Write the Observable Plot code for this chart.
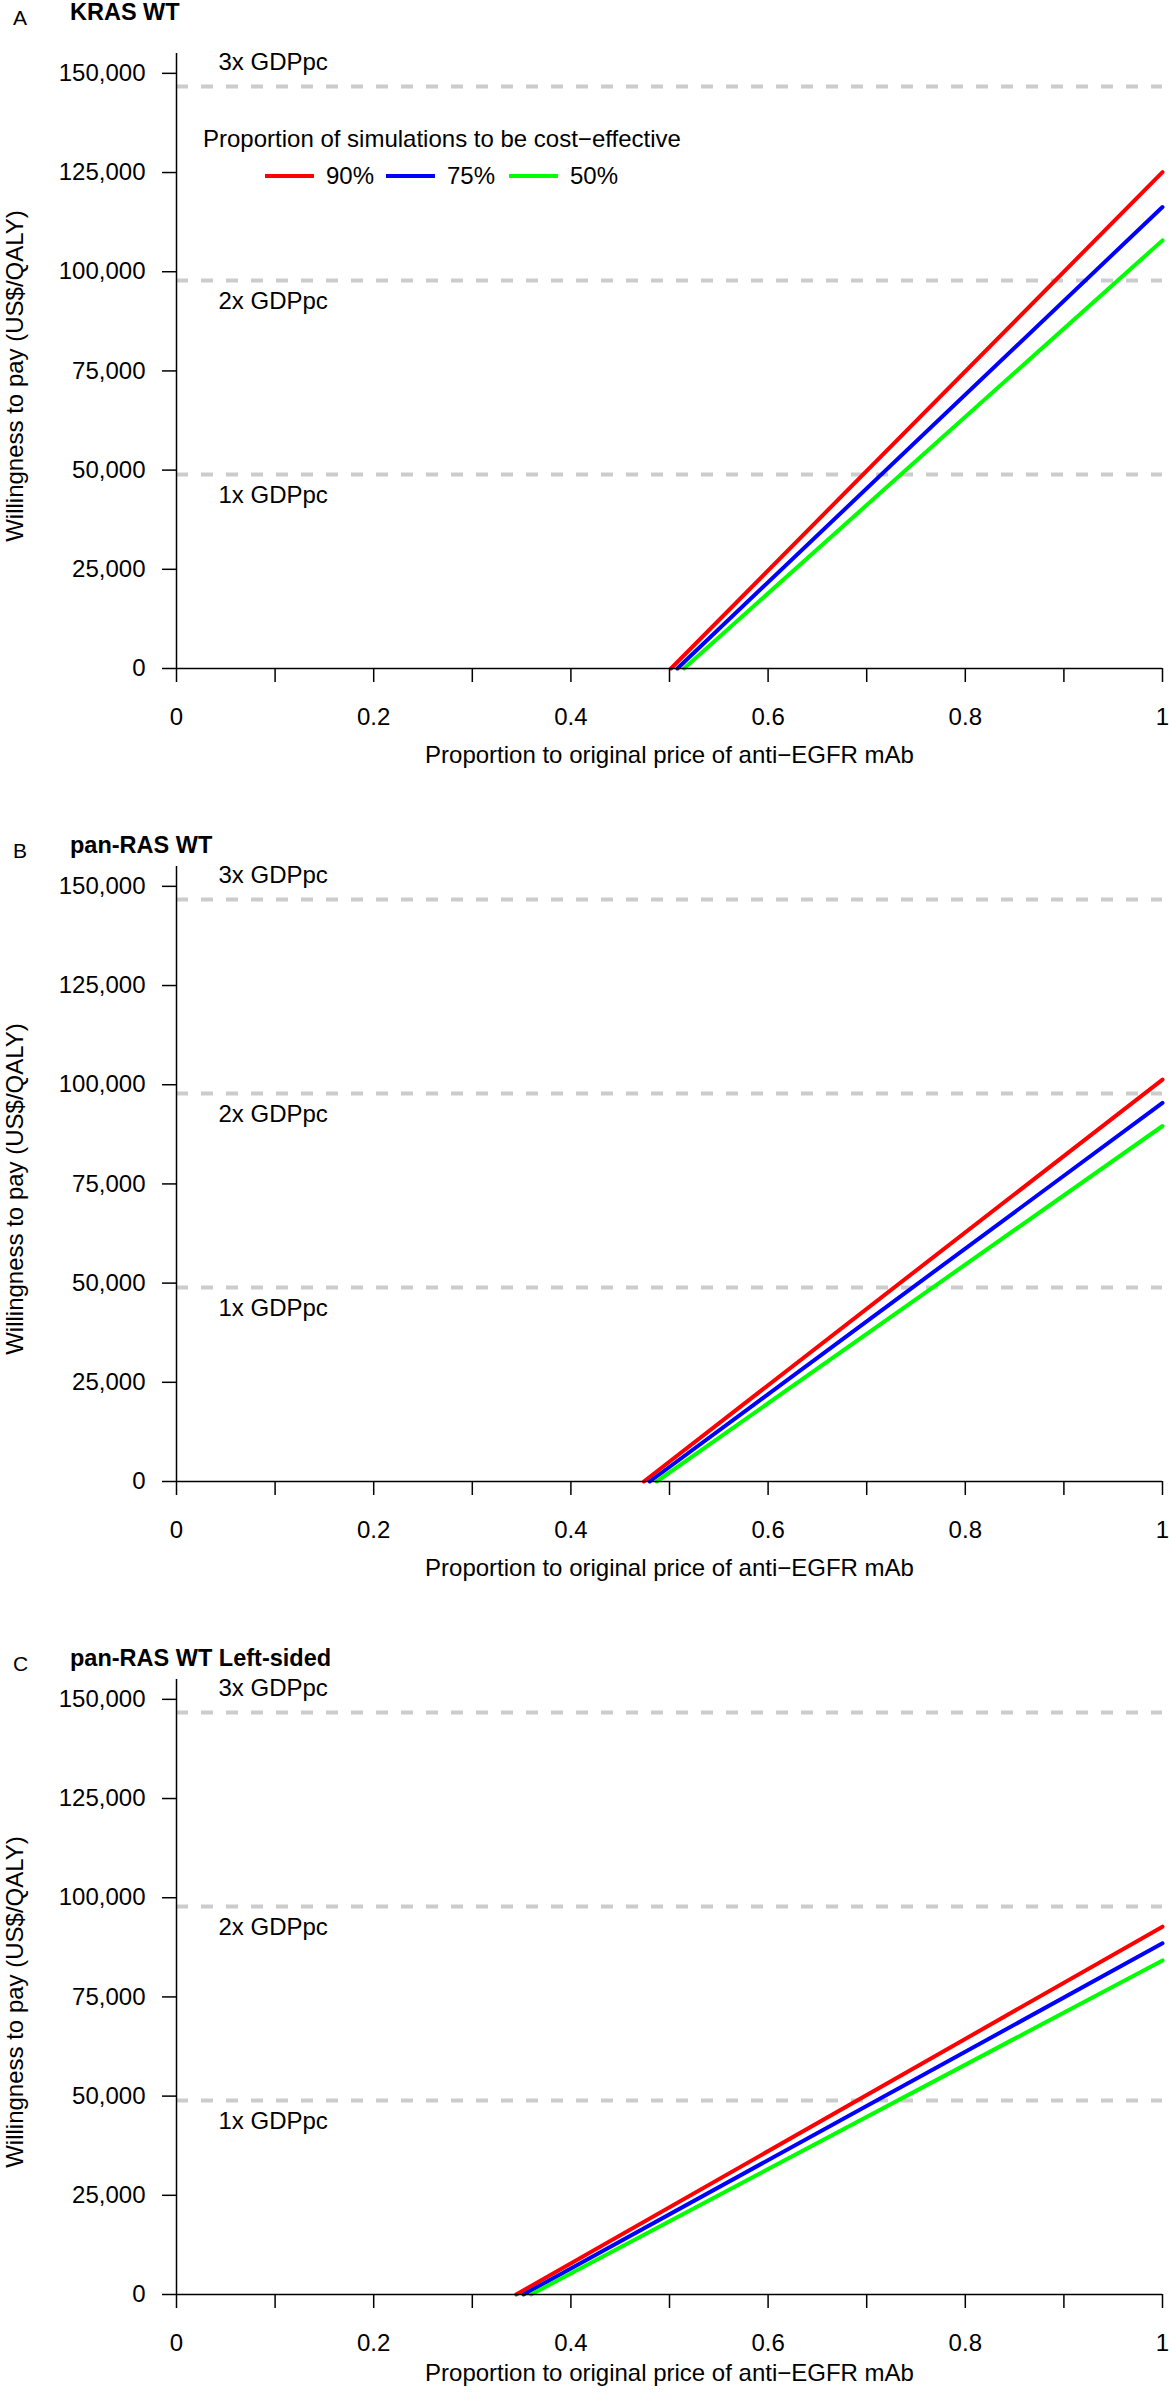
<!DOCTYPE html>
<html>
<head>
<meta charset="utf-8">
<script src="https://cdn.jsdelivr.net/npm/d3@7"></script>
<script src="https://cdn.jsdelivr.net/npm/@observablehq/plot@0.6"></script>
<style>
  html, body { margin: 0; padding: 0; background: #fff; }
  body { width: 1169px; font-family: "Liberation Sans", Arial, sans-serif; color: #000; }
  .panel { position: relative; width: 1169px; }
  .panel svg { display: block; }
  .abs { position: absolute; line-height: 1; white-space: nowrap; }
  .letter { font-size: 21px; }
  .title { font-size: 23.5px; font-weight: bold; }
  .leg { font-size: 24px; }
  .sw { position: absolute; height: 4px; width: 49px; }
</style>
</head>
<body>
<div id="root"></div>
<script>
// ---- data ----
const panelLetters = ["A", "B", "C"];
const panelTitles = ["KRAS WT", "pan-RAS WT", "pan-RAS WT Left-sided"];
const seriesNames = ["90%", "75%", "50%"];
const seriesColors = ["#ff0000", "#0000ff", "#00ff00"];

// x where WTP = 0 and WTP at x = 1 (proportion of original price)
const krasStartX = [0.5015, 0.508, 0.5147];
const krasEndWTP = [125100, 116300, 107900];
const panRasStartX = [0.474, 0.480, 0.487];
const panRasEndWTP = [101300, 95400, 89600];
const leftStartX = [0.3445, 0.352, 0.3596];
const leftEndWTP = [92700, 88500, 84200];

const gdpLevels = [48900, 97800, 146700];
const gdpLabels = ["1x GDPpc", "2x GDPpc", "3x GDPpc"];

const yTicks = [0, 25000, 50000, 75000, 100000, 125000, 150000];
const xTicks = [0, 0.1, 0.2, 0.3, 0.4, 0.5, 0.6, 0.7, 0.8, 0.9, 1];
const xTickLabels = ["0", "", "0.2", "", "0.4", "", "0.6", "", "0.8", "", "1"];

const xTitle = "Proportion to original price of anti\u2212EGFR mAb";
const yTitle = "Willingness to pay (US$/QALY)";
const legendTitle = "Proportion of simulations to be cost\u2212effective";

const panelStarts = [krasStartX, panRasStartX, leftStartX];
const panelEnds = [krasEndWTP, panRasEndWTP, leftEndWTP];
const panelHeights = [813, 813, 766];
const headerShift = [0, 20, 20];
const xTitleOffset = [87, 87, 79];

const root = document.getElementById("root");

panelLetters.forEach((letter, p) => {
  const lineData = [];
  seriesNames.forEach((s, i) => {
    lineData.push({series: s, x: panelStarts[p][i], y: 0});
    lineData.push({series: s, x: 1, y: panelEnds[p][i]});
  });
  const gdp = gdpLevels.map((v, i) => ({value: v, label: gdpLabels[i]}));
  const H = panelHeights[p];

  const chart = Plot.plot({
    width: 1169,
    height: H,
    marginLeft: 176,
    marginRight: 7,
    marginTop: 53,
    marginBottom: H - 668,
    style: {fontSize: "24px", fontFamily: "'Liberation Sans', Arial, sans-serif", color: "#000", background: "#fff"},
    x: {domain: [0, 1]},
    y: {domain: [0, 155000]},
    color: {domain: seriesNames, range: seriesColors},
    marks: [
      Plot.ruleY(gdp, {y: "value", x1: 0, x2: 1, stroke: "#cccccc", strokeWidth: 4, strokeDasharray: "12,13"}),
      Plot.text(gdp.filter(d => d.value > 120000), {y: "value", text: "label", frameAnchor: "left", dx: 42, dy: -24, textAnchor: "start", lineAnchor: "middle"}),
      Plot.text(gdp.filter(d => d.value < 120000), {y: "value", text: "label", frameAnchor: "left", dx: 42, dy: 21, textAnchor: "start", lineAnchor: "middle"}),
      Plot.line(lineData, {x: "x", y: "y", z: "series", stroke: "series", strokeWidth: 4}),
      Plot.ruleX([0], {y1: 0, y2: 155000, stroke: "#000", strokeWidth: 1.5}),
      Plot.ruleY([0], {x1: 0, x2: 1, stroke: "#000", strokeWidth: 1.5}),
      Plot.axisY({ticks: yTicks, tickFormat: d3.format(","), tickSize: 14, tickPadding: 17, strokeWidth: 1.5, label: null, fontSize: 24}),
      Plot.axisX({ticks: xTicks, tickFormat: (d, i) => xTickLabels[Math.round(d * 10)], tickSize: 14, tickPadding: 25, strokeWidth: 1.5, label: null, fontSize: 24}),
      Plot.text([xTitle], {text: d => d, frameAnchor: "bottom", lineAnchor: "middle", textAnchor: "middle", dy: xTitleOffset[p]}),
      Plot.text([yTitle], {text: d => d, frameAnchor: "left", textAnchor: "middle", lineAnchor: "middle", dx: -161, dy: 15, rotate: -90})
    ]
  });

  const panel = document.createElement("div");
  panel.className = "panel";
  panel.style.height = H + "px";
  panel.appendChild(chart);

  const l = document.createElement("div");
  l.className = "abs letter";
  l.style.left = "13px"; l.style.top = (7 + headerShift[p]) + "px";
  l.textContent = letter;
  panel.appendChild(l);

  const t = document.createElement("div");
  t.className = "abs title";
  t.style.left = "70px"; t.style.top = (1 + headerShift[p]) + "px";
  t.textContent = panelTitles[p];
  panel.appendChild(t);

  if (p === 0) {
    const lt = document.createElement("div");
    lt.className = "abs leg";
    lt.style.left = "203px"; lt.style.top = "127px";
    lt.textContent = legendTitle;
    panel.appendChild(lt);
    const swLeft = [265, 386, 509];
    seriesNames.forEach((s, i) => {
      const sw = document.createElement("div");
      sw.className = "sw";
      sw.style.left = swLeft[i] + "px"; sw.style.top = "174px";
      sw.style.background = seriesColors[i];
      panel.appendChild(sw);
      const tx = document.createElement("div");
      tx.className = "abs leg";
      tx.style.left = (swLeft[i] + 61) + "px"; tx.style.top = "164px";
      tx.textContent = s;
      panel.appendChild(tx);
    });
  }
  root.appendChild(panel);
});
</script>
</body>
</html>
